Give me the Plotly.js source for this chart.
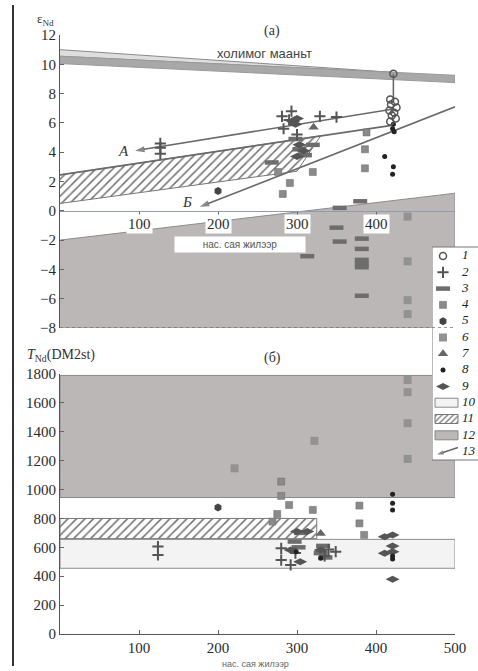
<!DOCTYPE html>
<html><head><meta charset="utf-8">
<script src="https://cdn.plot.ly/plotly-3.0.1.min.js"></script>
<style>html,body{margin:0;padding:0;background:#fff}#chart{width:478px;height:671px}</style>
</head><body><div id="chart"></div>
<script>
// ===== Panel (a): eNd vs age (Ma) =====
const a1x = [422, 418, 424, 419, 426, 417, 423, 420, 425, 418];
const a1y = [9.35, 7.6, 7.45, 7.25, 7.05, 6.85, 6.7, 6.5, 6.3, 6.1];
const a2x = [127, 127, 127, 281, 293, 283, 329, 350, 290, 300];
const a2y = [4.6, 4.3, 3.9, 6.45, 6.8, 5.6, 6.45, 6.4, 6.2, 5.2];
const a3x = [268, 354, 380, 350, 354, 382, 382, 382, 382, 382, 382, 313, 298, 303, 310, 320];
const a3y = [3.3, 0.2, 0.65, -1.15, -2.1, -1.9, -2.6, -3.35, -3.6, -3.85, -5.8, -3.1, 4.9, 4.2, 3.8, 4.5];
const a4x = [388, 386, 386, 320, 291, 282, 276];
const a4y = [5.35, 4.2, 2.9, 2.65, 1.9, 1.15, 2.65];
const a5x = [200];
const a5y = [1.35];
const a6x = [440, 440, 440, 440];
const a6y = [-0.4, -3.45, -6.1, -7.05];
const a7x = [321];
const a7y = [5.7];
const a8x = [411, 422, 421, 422, 421, 423];
const a8y = [3.7, 3.0, 2.5, 5.9, 5.6, 5.4];
const a9x = [295, 300, 298, 303, 308, 300];
const a9y = [6.1, 6.3, 5.9, 4.5, 4.1, 3.7];

// regions of panel (a)
const crustX = [0, 500, 500, 0];          // 12: crust field
const crustY = [-2, 1.2, -8, -8];
const hatchAX = [0, 330, 300, 0];         // 11
const hatchAY = [2.45, 5.12, 2.7, 0.5];
const mantleLightX = [0, 422, 0];
const mantleLightY = [11.0, 9.45, 10.55];
const mantleBandX = [0, 500, 500, 0];
const mantleBandY = [10.55, 9.25, 8.75, 10.05];
const trendX = [0, 422];
const trendY = [2.45, 5.85];
const vertX = [422, 422];
const vertY = [9.35, 7.7];
const arrowAX = [422, 95];
const arrowAY = [6.95, 4.1];
const arrowBX = [500, 177];
const arrowBY = [7.1, 0.27];

// ===== Panel (б): T_Nd(DM2st) vs age (Ma) =====
const b2x = [124, 124, 280, 280, 292, 298, 340, 349, 335];
const b2y = [605, 547, 593, 512, 478, 560, 585, 570, 540];
const b3x = [297, 302, 330, 333, 336, 305];
const b3y = [640, 600, 560, 610, 530, 700];
const b4x = [280, 280, 290, 275, 269, 320, 379, 379, 385];
const b4y = [1055, 956, 893, 831, 778, 859, 889, 766, 686];
const b5x = [200];
const b5y = [875];
const b6x = [440, 440, 440, 440, 322, 221];
const b6y = [1759, 1674, 1459, 1212, 1337, 1147];
const b7x = [330];
const b7y = [695];
const b8x = [421, 421, 421, 421, 421, 299, 330];
const b8y = [967, 905, 859, 540, 520, 570, 524];
const b9x = [421, 411, 411, 421, 421, 421, 300, 292, 304, 313, 330];
const b9y = [686, 674, 559, 379, 570, 610, 709, 582, 500, 709, 582];

const box10X = [0, 500, 500, 0, 0];
const box10Y = [455, 455, 655, 655, 455];
const box11X = [0, 325, 325, 0, 0];
const box11Y = [660, 660, 800, 800, 660];
const box12X = [0, 500, 500, 0, 0];
const box12Y = [945, 945, 1790, 1790, 945];

const xTicksA = [100, 200, 300, 400];
const yTicksA = [-8, -6, -4, -2, 0, 2, 4, 6, 8, 10, 12];
const xTicksB = [100, 200, 300, 400, 500];
const yTicksB = [0, 200, 400, 600, 800, 1000, 1200, 1400, 1600, 1800];
const legendNames = ['1', '2', '3', '4', '5', '6', '7', '8', '9', '10', '11', '12', '13'];

// ---------- styles ----------
const GRAY = '#bbb7b7';
const S = {
  1: {symbol: 'circle-open', size: 7, color: '#555', line: {width: 1.5, color: '#555'}},
  2: {symbol: 'cross-thin-open', size: 8, color: '#555', line: {width: 2, color: '#555'}},
  3: {symbol: 'line-ew-open', size: 10, color: '#6d6d6d', line: {width: 4.5, color: '#6d6d6d'}},
  4: {symbol: 'square', size: 7, color: '#8a8a8a', line: {width: 0.5, color: '#666'}},
  5: {symbol: 'hexagon', size: 8, color: '#444', line: {width: 0}},
  6: {symbol: 'square', size: 8, color: '#929292', line: {width: 0}},
  7: {symbol: 'triangle-up', size: 9, color: '#666', line: {width: 0}},
  8: {symbol: 'circle', size: 5, color: '#222', line: {width: 0}},
  9: {symbol: 'diamond-wide', size: 10, color: '#555', line: {width: 0}}
};
function pts(x, y, k, ax, ay) {
  return {type: 'scatter', mode: 'markers', x: x, y: y, xaxis: ax, yaxis: ay,
    name: String(k), showlegend: false, marker: S[k], hoverinfo: 'skip'};
}
function poly(x, y, ax, ay, fill, lineColor, extra) {
  return Object.assign({type: 'scatter', mode: 'lines', x: x, y: y, xaxis: ax, yaxis: ay,
    fill: 'toself', fillcolor: fill, line: {color: lineColor, width: 1}, showlegend: false,
    hoverinfo: 'skip'}, extra || {});
}
function line(x, y, arrow, ax, ay, asize) {
  const t = {type: 'scatter', mode: arrow ? 'lines+markers' : 'lines', x: x, y: y,
    xaxis: ax || 'x', yaxis: ay || 'y',
    line: {color: '#6a6a6a', width: 1.6}, showlegend: false, hoverinfo: 'skip'};
  if (arrow) t.marker = {symbol: 'arrow', size: x.map((v, i) => i === x.length - 1 ? (asize || 10) : 0),
    angleref: 'previous', color: '#555', line: {width: 0}};
  return t;
}
const hatch = {shape: '/', fgcolor: '#6f6f6f', bgcolor: 'white', size: 6, solidity: 0.25};

// ---------- legend drawn on its own hidden axes (units = pixels) ----------
const LG = {left: 432, top: 244, bottom: 470, boxTop: 3, boxBottom: 216, first: 12, step: 16.3,
  symX: 11, textX: 30, swL: 3, swR: 26, swH: 4.5};
const lgY = i => LG.first + i * LG.step;
const rect = (x0, x1, y0, y1) => ({x: [x0, x1, x1, x0, x0], y: [y0, y0, y1, y1, y0]});

const legendTraces = [];
{
  const b = rect(0, 80, LG.boxTop, LG.boxBottom);
  legendTraces.push(poly(b.x, b.y, 'x3', 'y3', 'white', '#777'));
  for (let k = 1; k <= 9; k++) {
    legendTraces.push({type: 'scatter', mode: 'markers', x: [LG.symX], y: [lgY(k - 1)],
      xaxis: 'x3', yaxis: 'y3', marker: S[k], showlegend: false, hoverinfo: 'skip'});
  }
  const sw = i => rect(LG.swL, LG.swR, lgY(i) - LG.swH, lgY(i) + LG.swH);
  const s10 = sw(9), s11 = sw(10), s12 = sw(11);
  legendTraces.push(poly(s10.x, s10.y, 'x3', 'y3', '#f3f3f3', '#888'));
  legendTraces.push(poly(s11.x, s11.y, 'x3', 'y3', 'white', '#777', {fillpattern: {shape: '/', fgcolor: '#6f6f6f', bgcolor: 'white', size: 4, solidity: 0.3}}));
  legendTraces.push(poly(s12.x, s12.y, 'x3', 'y3', GRAY, '#888'));
  legendTraces.push(line([LG.swR, LG.swL + 2], [lgY(12) - 4, lgY(12) + 3], true, 'x3', 'y3', 7));
  legendTraces.push({type: 'scatter', mode: 'text', x: legendNames.map(() => LG.textX), y: legendNames.map((n, i) => lgY(i)),
    text: legendNames, textposition: 'middle right', xaxis: 'x3', yaxis: 'y3', showlegend: false, hoverinfo: 'skip',
    textfont: {family: 'Liberation Serif', size: 13, style: 'italic', color: '#222'}});
}

const traces = [
  poly(crustX, crustY, 'x', 'y', GRAY, '#8d8d8d'),
  poly(hatchAX, hatchAY, 'x', 'y', 'white', '#777', {fillpattern: hatch}),
  poly(mantleLightX, mantleLightY, 'x', 'y', '#dedede', '#8a8a8a'),
  poly(mantleBandX, mantleBandY, 'x', 'y', '#a8a8a8', '#9a9a9a'),
  line(trendX, trendY, false),
  line(vertX, vertY, false),
  line(arrowAX, arrowAY, true),
  line(arrowBX, arrowBY, true),
  poly(box12X, box12Y, 'x2', 'y2', GRAY, '#8a8a8a'),
  poly(box11X, box11Y, 'x2', 'y2', 'white', '#777', {fillpattern: hatch}),
  poly(box10X, box10Y, 'x2', 'y2', '#f3f3f3', '#8d8d8d'),
  pts(a3x, a3y, 3, 'x', 'y'), pts(a4x, a4y, 4, 'x', 'y'), pts(a6x, a6y, 6, 'x', 'y'),
  pts(a9x, a9y, 9, 'x', 'y'), pts(a2x, a2y, 2, 'x', 'y'), pts(a7x, a7y, 7, 'x', 'y'),
  pts(a5x, a5y, 5, 'x', 'y'), pts(a8x, a8y, 8, 'x', 'y'), pts(a1x, a1y, 1, 'x', 'y'),
  pts(b3x, b3y, 3, 'x2', 'y2'), pts(b4x, b4y, 4, 'x2', 'y2'), pts(b6x, b6y, 6, 'x2', 'y2'),
  pts(b9x, b9y, 9, 'x2', 'y2'), pts(b2x, b2y, 2, 'x2', 'y2'), pts(b7x, b7y, 7, 'x2', 'y2'),
  pts(b5x, b5y, 5, 'x2', 'y2'), pts(b8x, b8y, 8, 'x2', 'y2')
].concat(legendTraces);

const W = 478, H = 671;
const xDom = [60 / W, 455 / W];
const yDomA = [1 - 328 / H, 1 - 35 / H];
const yDomB = [1 - 634 / H, 1 - 374 / H];
const rA = [-8, 12];
const zeroPos = yDomA[0] + (0 - rA[0]) / (rA[1] - rA[0]) * (yDomA[1] - yDomA[0]);

const tickFont = {family: 'Liberation Serif', size: 15, color: '#2a2a2a'};
const minus = v => (v < 0 ? '\u2212' + Math.abs(v) : String(v));
const C = {xanchor: 'center', yanchor: 'middle', showarrow: false};

const annotations = [
  Object.assign({xref: 'paper', yref: 'paper', x: 272 / W, y: 1 - 31 / H, text: '(a)',
    font: {family: 'Liberation Serif', size: 14, color: '#333'}}, C),
  Object.assign({xref: 'paper', yref: 'paper', x: 45 / W, y: 1 - 19 / H, text: 'ε<sub>Nd</sub>',
    font: {family: 'Liberation Serif', size: 13, color: '#333'}}, C),
  Object.assign({xref: 'x', yref: 'y', x: 259, y: 10.72, text: 'холимог мааньт',
    font: {family: 'Liberation Sans', size: 13, color: '#444'}}, C),
  Object.assign({xref: 'x', yref: 'y', x: 80, y: 4.05, text: '<i>А</i>',
    font: {family: 'Liberation Serif', size: 15, color: '#333'}}, C),
  Object.assign({xref: 'x', yref: 'y', x: 161, y: 0.6, text: '<i>Б</i>',
    font: {family: 'Liberation Serif', size: 15, color: '#333'}}, C),
  Object.assign({xref: 'x', yref: 'y', x: 228, y: -2.3, text: 'нас. сая жилээр',
    bgcolor: 'white', width: 128, height: 13,
    font: {family: 'Liberation Sans', size: 10, color: '#555'}}, C),
  Object.assign({xref: 'paper', yref: 'paper', x: 61 / W, y: 1 - 355 / H, text: '<i>T</i><sub>Nd</sub>(DM2st)',
    font: {family: 'Liberation Serif', size: 14, color: '#333'}}, C),
  Object.assign({xref: 'paper', yref: 'paper', x: 272 / W, y: 1 - 358 / H, text: '(б)',
    font: {family: 'Liberation Serif', size: 14, color: '#333'}}, C),
  Object.assign({xref: 'paper', yref: 'paper', x: 255 / W, y: 1 - 664 / H, text: 'нас. сая жилээр',
    font: {family: 'Liberation Sans', size: 9, color: '#666'}}, C)
].concat(xTicksA.map(v => ({xref: 'x', yref: 'y', x: v, y: 0, xanchor: 'center', yanchor: 'top', yshift: -3,
  text: String(v), showarrow: false, bgcolor: 'white', borderpad: 1, font: tickFont})));

const layout = {
  width: W, height: H, margin: {l: 0, r: 0, t: 0, b: 0, autoexpand: false},
  paper_bgcolor: 'white', plot_bgcolor: 'rgba(0,0,0,0)',
  showlegend: false,
  xaxis: {domain: xDom, range: [0, 500], anchor: 'free', position: zeroPos,
    tickvals: xTicksA, showticklabels: false, ticks: 'outside', ticklen: 4, tickcolor: '#666',
    showline: true, linecolor: '#8d9bb4', linewidth: 1.5, showgrid: false, zeroline: false, layer: 'above traces'},
  yaxis: {domain: yDomA, range: rA, anchor: 'x', tickvals: yTicksA, ticktext: yTicksA.map(minus),
    ticks: 'inside', ticklen: 4, tickcolor: '#666', tickfont: tickFont,
    showline: true, linecolor: '#555', linewidth: 1, showgrid: false, zeroline: false},
  xaxis2: {domain: xDom, range: [0, 500], anchor: 'y2', tickvals: xTicksB,
    ticks: 'inside', ticklen: 4, tickcolor: '#666', tickfont: tickFont,
    showline: true, linecolor: '#555', linewidth: 1, showgrid: false, zeroline: false},
  yaxis2: {domain: yDomB, range: [0, 1800], anchor: 'x2', tickvals: yTicksB,
    ticks: 'inside', ticklen: 4, tickcolor: '#666', tickfont: tickFont,
    showline: true, linecolor: '#555', linewidth: 1, showgrid: false, zeroline: false},
  xaxis3: {domain: [LG.left / W, 1], range: [0, W - LG.left], visible: false, fixedrange: true},
  yaxis3: {domain: [1 - LG.bottom / H, 1 - LG.top / H], range: [LG.bottom - LG.top, 0], anchor: 'x3',
    visible: false, fixedrange: true},
  annotations: annotations,
  shapes: [
    {type: 'line', xref: 'paper', yref: 'paper', x0: 13 / W, x1: 13 / W, y0: 1 - 5 / H, y1: 1 - 666 / H,
      line: {color: '#333', width: 2}},
    {type: 'line', xref: 'x', yref: 'y', x0: 0, x1: 500, y0: -8, y1: -8,
      line: {color: '#777', width: 1.5, dash: 'dot'}}
  ]
};

Plotly.newPlot('chart', traces, layout, {displayModeBar: false, staticPlot: true});
</script></body></html>
